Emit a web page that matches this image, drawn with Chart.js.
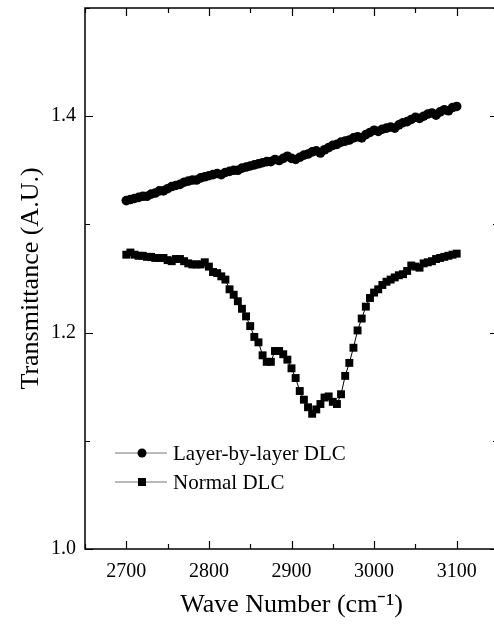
<!DOCTYPE html>
<html>
<head>
<meta charset="utf-8">
<script src="https://cdn.jsdelivr.net/npm/chart.js@4"></script>
<style>
    html, body { margin: 0; padding: 0; background: #fff; overflow: hidden; }
    #wrap { position: absolute; left: 0; top: 0; width: 510px; height: 624px; }
</style>
</head>
<body>
<div id="wrap"><canvas id="ftirChart" width="510" height="624"></canvas></div>
<script>
// wave numbers (cm-1), one reading every 5 cm-1
const waveNumbers = [
    2700, 2705, 2710, 2715, 2720, 2725, 2730, 2735, 2740, 2745,
    2750, 2755, 2760, 2765, 2770, 2775, 2780, 2785, 2790, 2795,
    2800, 2805, 2810, 2815, 2820, 2825, 2830, 2835, 2840, 2845,
    2850, 2855, 2860, 2865, 2870, 2875, 2880, 2885, 2890, 2895,
    2900, 2905, 2910, 2915, 2920, 2925, 2930, 2935, 2940, 2945,
    2950, 2955, 2960, 2965, 2970, 2975, 2980, 2985, 2990, 2995,
    3000, 3005, 3010, 3015, 3020, 3025, 3030, 3035, 3040, 3045,
    3050, 3055, 3060, 3065, 3070, 3075, 3080, 3085, 3090, 3095,
    3100,
];

const layerByLayer = [
    1.322, 1.323, 1.324, 1.325, 1.326, 1.326, 1.328, 1.329, 1.331, 1.331,
    1.333, 1.335, 1.336, 1.337, 1.339, 1.340, 1.341, 1.341, 1.343, 1.344,
    1.345, 1.346, 1.347, 1.346, 1.348, 1.349, 1.350, 1.350, 1.352, 1.353,
    1.354, 1.355, 1.356, 1.357, 1.358, 1.358, 1.360, 1.359, 1.361, 1.363,
    1.361, 1.360, 1.362, 1.364, 1.365, 1.367, 1.368, 1.366, 1.369, 1.371,
    1.373, 1.374, 1.376, 1.377, 1.378, 1.380, 1.381, 1.380, 1.383, 1.385,
    1.387, 1.386, 1.388, 1.389, 1.390, 1.389, 1.392, 1.394, 1.395, 1.397,
    1.399, 1.398, 1.400, 1.402, 1.403, 1.401, 1.404, 1.406, 1.405, 1.408,
    1.409,
];

const normalDLC = [
    1.272, 1.274, 1.272, 1.271, 1.271, 1.270, 1.270, 1.269, 1.269, 1.269,
    1.267, 1.266, 1.268, 1.268, 1.266, 1.264, 1.263, 1.263, 1.263, 1.265,
    1.261, 1.256, 1.255, 1.252, 1.249, 1.240, 1.235, 1.229, 1.222, 1.215,
    1.206, 1.196, 1.191, 1.179, 1.173, 1.173, 1.183, 1.183, 1.180, 1.175,
    1.167, 1.158, 1.146, 1.138, 1.131, 1.125, 1.129, 1.134, 1.140, 1.141,
    1.136, 1.134, 1.143, 1.160, 1.172, 1.186, 1.202, 1.213, 1.224, 1.232,
    1.237, 1.240, 1.244, 1.247, 1.249, 1.251, 1.253, 1.254, 1.257, 1.262,
    1.261, 1.260, 1.264, 1.265, 1.266, 1.268, 1.269, 1.270, 1.271, 1.272,
    1.273,
];

const seriesLabels = ["Layer-by-layer DLC", "Normal DLC"];
const xLabelTicks = [2700, 2800, 2900, 3000, 3100];
const yLabelTicks = [1.0, 1.2, 1.4];

const serif = "'Liberation Serif', 'Times New Roman', serif";
Chart.defaults.font.family = serif;
Chart.defaults.color = "#000";

const toPoints = (vals) => waveNumbers.map((w, i) => ({ x: w, y: vals[i] }));

// box around the plot with short ticks pointing inwards, on all four sides
const frameTicks = {
    id: "frameTicks",
    afterDraw(chart) {
        const { ctx, chartArea: { left, right, top, bottom }, scales: { x, y } } = chart;
        ctx.save();
        ctx.strokeStyle = "#000";
        ctx.lineWidth = 1.5;
        ctx.strokeRect(left, top, right - left, bottom - top);
        ctx.lineWidth = 1.2;
        ctx.beginPath();
        x.ticks.forEach((t) => {
            const px = Math.round(x.getPixelForValue(t.value)) + 0.5;
            const len = xLabelTicks.includes(t.value) ? 8 : 5;
            ctx.moveTo(px, bottom);
            ctx.lineTo(px, bottom - len);
            ctx.moveTo(px, top);
            ctx.lineTo(px, top + len);
        });
        y.ticks.forEach((t) => {
            const py = Math.round(y.getPixelForValue(t.value)) + 0.5;
            const major = yLabelTicks.some((v) => Math.abs(v - t.value) < 1e-6);
            const len = major ? 8 : 5;
            ctx.moveTo(left, py);
            ctx.lineTo(left + len, py);
            ctx.moveTo(right, py);
            ctx.lineTo(right - len, py);
        });
        ctx.stroke();
        ctx.restore();
    },
};

// legend sitting inside the plot, lower left
const insideLegend = {
    id: "insideLegend",
    afterDatasetsDraw(chart) {
        const { ctx, chartArea: { left, bottom } } = chart;
        ctx.save();
        chart.data.datasets.forEach((ds, i) => {
            const yy = bottom - 96 + i * 29;
            const x0 = left + 30;
            ctx.strokeStyle = "#777";
            ctx.lineWidth = 1;
            ctx.beginPath();
            ctx.moveTo(x0, yy);
            ctx.lineTo(x0 + 52, yy);
            ctx.stroke();
            ctx.fillStyle = "#000";
            ctx.beginPath();
            if (ds.pointStyle === "rect") {
                ctx.rect(x0 + 27 - 4, yy - 4, 8, 8);
            } else {
                ctx.arc(x0 + 27, yy, 4.5, 0, Math.PI * 2);
            }
            ctx.fill();
            ctx.font = "21px " + serif;
            ctx.textBaseline = "middle";
            ctx.fillText(ds.label, x0 + 58, yy + 1);
        });
        ctx.restore();
    },
};

const ctx = document.getElementById("ftirChart").getContext("2d");
new Chart(ctx, {
    type: "line",
    data: {
        datasets: [
            {
                label: seriesLabels[0],
                data: toPoints(layerByLayer),
                borderColor: "#000",
                backgroundColor: "#000",
                borderWidth: 1,
                pointStyle: "circle",
                pointRadius: 4.8,
                pointBorderWidth: 0,
            },
            {
                label: seriesLabels[1],
                data: toPoints(normalDLC),
                borderColor: "#000",
                backgroundColor: "#000",
                borderWidth: 1,
                pointStyle: "rect",
                pointRadius: 5.6,
                pointBorderWidth: 0,
            },
        ],
    },
    options: {
        responsive: false,
        animation: false,
        layout: { padding: { top: 8, right: 12, left: 0, bottom: 0 } },
        plugins: {
            legend: { display: false },
            tooltip: { enabled: false },
        },
        scales: {
            x: {
                type: "linear",
                min: 2650,
                max: 3150,
                afterFit: (s) => {
                    s.height = 75;
                },
                ticks: {
                    stepSize: 50,
                    autoSkip: false,
                    maxRotation: 0,
                    padding: 11,
                    font: { size: 20 },
                    color: "#000",
                    callback: (v) => (xLabelTicks.includes(v) ? String(v) : ""),
                },
                grid: { drawOnChartArea: false, drawTicks: false },
                border: { display: false },
                title: {
                    display: true,
                    text: "Wave Number (cm\u207B\u00B9)",
                    font: { size: 26 },
                    color: "#000",
                    padding: { top: 0, bottom: 3 },
                },
            },
            y: {
                min: 1.0,
                max: 1.5,
                afterFit: (s) => {
                    s.width = 85;
                    s.paddingTop = 0;
                    s.paddingBottom = 0;
                },
                ticks: {
                    stepSize: 0.1,
                    autoSkip: false,
                    padding: 9,
                    font: { size: 20 },
                    color: "#000",
                    callback: (v) =>
                        yLabelTicks.some((t) => Math.abs(t - v) < 1e-6) ? v.toFixed(1) : "",
                },
                grid: { drawOnChartArea: false, drawTicks: false },
                border: { display: false },
                title: {
                    display: true,
                    text: "Transmittance (A.U.)",
                    font: { size: 26 },
                    color: "#000",
                    padding: { top: 16, bottom: 0 },
                },
            },
        },
    },
    plugins: [frameTicks, insideLegend],
});
</script>
</body>
</html>
